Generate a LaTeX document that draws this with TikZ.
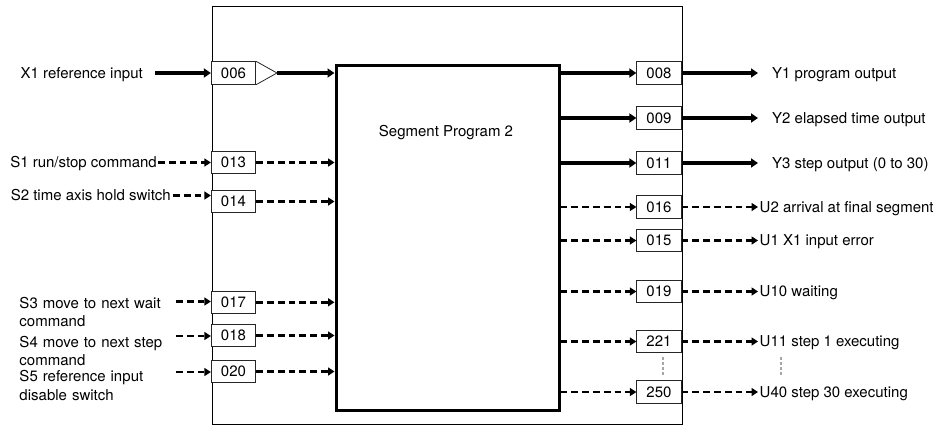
\documentclass[tikz,border=0pt]{standalone}
\usepackage{fontspec}
\setmainfont{TeX Gyre Heros}
\usetikzlibrary{arrows.meta}
\tikzset{
  txt/.style={inner sep=0pt, font=\fontsize{15}{18.3}\selectfont},
  numbox/.style={draw=black!85, line width=0.8pt, fill=white, minimum width=44.5pt, minimum height=22.5pt, inner sep=0pt, font=\fontsize{15}{18.3}\selectfont},
  thickarr/.style={line width=4pt, -{Triangle[length=7pt,width=9pt]}},
  dasharr/.style={line width=2.8pt, dash pattern=on 6.8pt off 4pt, -{Triangle[length=6.5pt,width=8pt]}},
  grayline/.style={draw=black!35, line width=1.2pt, dash pattern=on 3pt off 2pt},
  frame/.style={draw, line width=1.3pt}
}
\begin{document}
\begin{tikzpicture}[x=1pt,y=-1pt]
\useasboundingbox (0,0) rectangle (946,426);
% outer frame and program block
\node[frame, minimum width=470pt, minimum height=418pt, anchor=north west, inner sep=0pt] (outer) at (211.5,5.5) {};
\node[draw, line width=3pt, minimum width=223pt, minimum height=345pt, anchor=north west, inner sep=0pt] (prog) at (334.5,63.5) {};
\node[txt, anchor=base] (title) at (446,136.5) {Segment Program 2};

% left boxes
\node[numbox] (b006) at (233.5,73) {006};
\node[numbox] (b013) at (233.5,162.5) {013};
\node[numbox] (b014) at (233.5,201.5) {014};
\node[numbox] (b017) at (233.5,302.3) {017};
\node[numbox] (b018) at (233.5,335.5) {018};
\node[numbox] (b020) at (233.5,371.5) {020};
\coordinate (tri) at (277,73);
\draw[line width=0.8pt, draw=black!85] (b006.north east) -- (tri) -- (b006.south east);

% right boxes
\node[numbox] (b008) at (659,73) {008};
\node[numbox] (b009) at (659,118) {009};
\node[numbox] (b011) at (659,163) {011};
\node[numbox] (b016) at (659,207) {016};
\node[numbox] (b015) at (659,240.5) {015};
\node[numbox] (b019) at (659,291.5) {019};
\node[numbox] (b221) at (659,341.5) {221};
\node[numbox] (b250) at (659,392) {250};

% left labels
\node[txt, anchor=base east] (lX1) at (143,78.3) {X1 reference input};
\node[txt, anchor=base east] (lS1) at (157,167.8) {S1 run/stop command};
\node[txt, anchor=base east] (lS2) at (171,200.8) {S2 time axis hold switch};
\node[txt, anchor=base west, text width=200pt, align=left] (lS3) at (19.3,308.3) {S3 move to next wait\\command};
\node[txt, anchor=base west, text width=200pt, align=left] (lS4) at (19.3,347.5) {S4 move to next step\\command};
\node[txt, anchor=base west, text width=200pt, align=left] (lS5) at (19.3,381.7) {S5 reference input\\disable switch};

% input arrow starts
\coordinate (sX1) at (155,73);
\coordinate (sS1) at (158,162.5);
\coordinate (sS2) at (173,195.5);
\coordinate (sS3) at (176,301.5);
\coordinate (sS4) at (176,336);
\coordinate (sS5) at (176,372);

\draw[thickarr] (sX1) -- (sX1 -| b006.west);
\draw[dasharr] (sS1) -- (sS1 -| b013.west);
\draw[dasharr] (sS2) -- (sS2 -| b014.west);
\draw[dasharr] (sS3) -- (sS3 -| b017.west);
\draw[dasharr] (sS4) -- (sS4 -| b018.west);
\draw[dasharr] (sS5) -- (sS5 -| b020.west);

% into program
\draw[thickarr] (tri) -- (tri -| prog.west);
\draw[dasharr] (b013.east) -- (b013.east -| prog.west);
\draw[dasharr] (b014.east) -- (b014.east -| prog.west);
\draw[dasharr] (b017.east) -- (b017.east -| prog.west);
\draw[dasharr] (b018.east) -- (b018.east -| prog.west);
\draw[dasharr] (b020.east) -- (b020.east -| prog.west);

% out of program
\draw[thickarr] (prog.east |- b008) -- (b008.west);
\draw[thickarr] (prog.east |- b009) -- (b009.west);
\draw[thickarr] (prog.east |- b011) -- (b011.west);
\draw[dasharr] (prog.east |- b016) -- (b016.west);
\draw[dasharr] (prog.east |- b015) -- (b015.west);
\draw[dasharr] (prog.east |- b019) -- (b019.west);
\draw[dasharr] (prog.east |- b221) -- (b221.west);
\draw[dasharr] (prog.east |- b250) -- (b250.west);

% outputs
\coordinate (oend) at (758,0);
\draw[thickarr] (b008.east) -- (b008.east -| oend);
\draw[thickarr] (b009.east) -- (b009.east -| oend);
\draw[thickarr] (b011.east) -- (b011.east -| oend);
\draw[dasharr] (b016.east) -- (b016.east -| oend);
\draw[dasharr] (b015.east) -- (b015.east -| oend);
\draw[dasharr] (b019.east) -- (b019.east -| oend);
\draw[dasharr] (b221.east) -- (b221.east -| oend);
\draw[dasharr] (b250.east) -- (b250.east -| oend);

\node[txt, anchor=base west] (lY1) at (772,78.3) {Y1 program output};
\node[txt, anchor=base west] (lY2) at (772,123.3) {Y2 elapsed time output};
\node[txt, anchor=base west] (lY3) at (772,168.3) {Y3 step output (0 to 30)};
\node[txt, anchor=base west] (lU2) at (759.5,212.3) {U2 arrival at final segment};
\node[txt, anchor=base west] (lU1) at (759.5,245.8) {U1 X1 input error};
\node[txt, anchor=base west] (lU10) at (759.5,296.8) {U10 waiting};
\node[txt, anchor=base west] (lU11) at (759.5,346.8) {U11 step 1 executing};
\node[txt, anchor=base west] (lU40) at (759.5,397.3) {U40 step 30 executing};

% continuation marks
\coordinate (g1a) at (663,357);
\coordinate (g1b) at (663,375);
\coordinate (g2a) at (781,357);
\coordinate (g2b) at (781,375);
\draw[grayline] (g1a) -- (g1b);
\draw[grayline] (g2a) -- (g2b);
\end{tikzpicture}
\end{document}
